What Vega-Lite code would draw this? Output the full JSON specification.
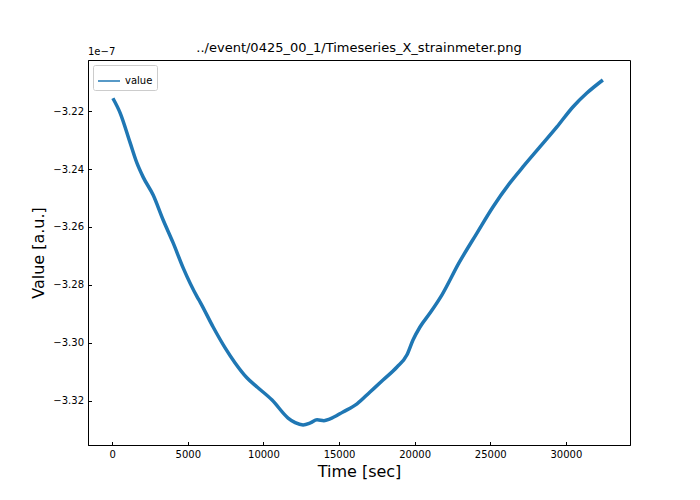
{
  "$schema": "https://vega.github.io/schema/vega-lite/v6.json",
  "autosize": "none",
  "padding": {"left": 88, "top": 60, "right": 70, "bottom": 55},
  "width": 542,
  "height": 385,
  "title": {
    "text": "../event/0425_00_1/Timeseries_X_strainmeter.png",
    "font": "DejaVu Sans",
    "fontSize": 13,
    "fontWeight": "normal",
    "color": "black",
    "anchor": "middle",
    "offset": -8
  },
  "config": {
    "view": {"stroke": "black", "strokeWidth": 1},
    "axis": {
      "grid": false,
      "domainColor": "black",
      "tickColor": "black",
      "tickSize": -3.5,
      "labelPadding": 8,
      "labelFont": "DejaVu Sans",
      "labelFontSize": 10,
      "labelColor": "black",
      "titleFont": "DejaVu Sans",
      "titleFontSize": 16,
      "titleFontWeight": "normal",
      "titleColor": "black"
    },
    "legend": {
      "symbolType": "stroke",
      "symbolStrokeWidth": 1.5,
      "symbolSize": 484,
      "labelFont": "DejaVu Sans",
      "labelFontSize": 10,
      "labelColor": "black",
      "strokeColor": "#cccccc",
      "fillColor": "white",
      "padding": 4,
      "cornerRadius": 2
    }
  },
  "data": {
    "values": [
      {"time": 46, "value": -3.2156},
      {"time": 529, "value": -3.2207},
      {"time": 1189, "value": -3.2310},
      {"time": 1632, "value": -3.2379},
      {"time": 2048, "value": -3.2428},
      {"time": 2709, "value": -3.2490},
      {"time": 3370, "value": -3.2576},
      {"time": 4031, "value": -3.2655},
      {"time": 4692, "value": -3.2741},
      {"time": 5617, "value": -3.2841},
      {"time": 5815, "value": -3.2859},
      {"time": 6674, "value": -3.2945},
      {"time": 7467, "value": -3.3017},
      {"time": 8128, "value": -3.3069},
      {"time": 8921, "value": -3.3121},
      {"time": 9582, "value": -3.3152},
      {"time": 10573, "value": -3.3197},
      {"time": 11630, "value": -3.3259},
      {"time": 12100, "value": -3.3275},
      {"time": 12621, "value": -3.3283},
      {"time": 13100, "value": -3.3276},
      {"time": 13546, "value": -3.3265},
      {"time": 14000, "value": -3.3268},
      {"time": 14405, "value": -3.3262},
      {"time": 15264, "value": -3.3238},
      {"time": 16190, "value": -3.3210},
      {"time": 17049, "value": -3.3169},
      {"time": 17908, "value": -3.3128},
      {"time": 18833, "value": -3.3083},
      {"time": 19494, "value": -3.3041},
      {"time": 19890, "value": -3.2990},
      {"time": 20353, "value": -3.2945},
      {"time": 21014, "value": -3.2897},
      {"time": 21807, "value": -3.2834},
      {"time": 22930, "value": -3.2724},
      {"time": 24119, "value": -3.2621},
      {"time": 25177, "value": -3.2531},
      {"time": 26300, "value": -3.2448},
      {"time": 27159, "value": -3.2393},
      {"time": 28283, "value": -3.2324},
      {"time": 29406, "value": -3.2255},
      {"time": 30463, "value": -3.2186},
      {"time": 31388, "value": -3.2138},
      {"time": 32446, "value": -3.2093}
    ]
  },
  "layer": [
    {
      "mark": {"type": "line", "strokeWidth": 3.5, "interpolate": "monotone", "clip": true},
      "encoding": {
        "x": {
          "field": "time",
          "type": "quantitative",
          "scale": {"domain": [-1600, 34240], "nice": false, "zero": false},
          "axis": {"title": "Time [sec]", "values": [0, 5000, 10000, 15000, 20000, 25000, 30000], "format": "d", "titlePadding": 4}
        },
        "y": {
          "field": "value",
          "type": "quantitative",
          "scale": {"domain": [-3.3352, -3.2024], "nice": false, "zero": false},
          "axis": {"title": "Value [a.u.]", "values": [-3.32, -3.30, -3.28, -3.26, -3.24, -3.22], "format": ".2f", "titlePadding": 6}
        },
        "color": {
          "datum": "value",
          "scale": {"range": ["#1f77b4"]},
          "legend": {"title": null, "orient": "top-left", "offset": 5}
        }
      }
    },
    {
      "data": {"values": [{"label": "1e−7"}]},
      "mark": {"type": "text", "align": "left", "baseline": "bottom", "dy": -3, "font": "DejaVu Sans", "fontSize": 10, "color": "black"},
      "encoding": {
        "x": {"datum": -1600},
        "y": {"datum": -3.2024},
        "text": {"field": "label"}
      }
    }
  ]
}
